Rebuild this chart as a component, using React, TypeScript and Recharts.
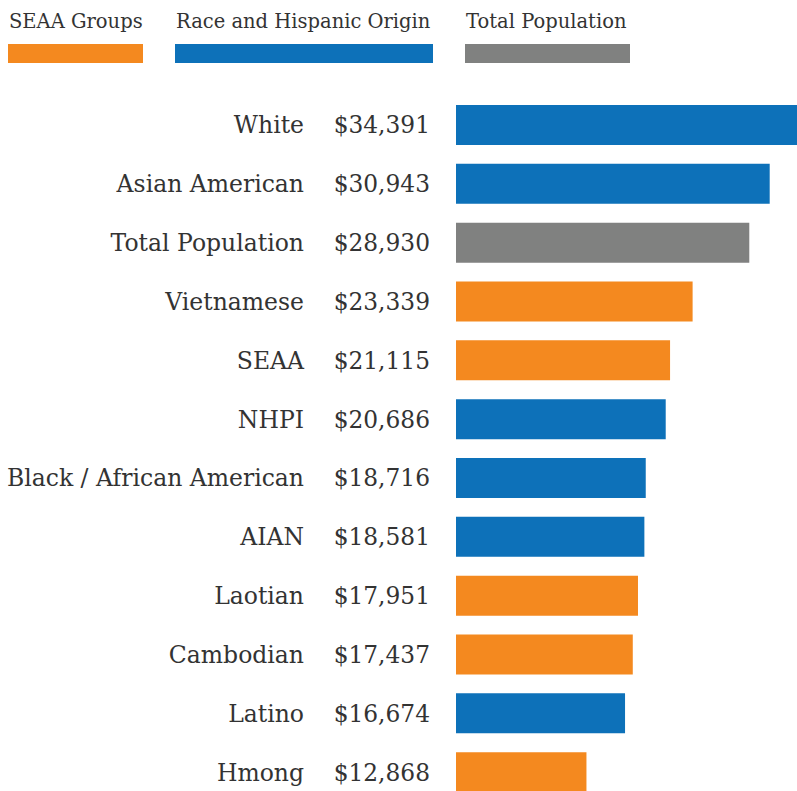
import { BarChart, Bar, XAxis, YAxis, Cell } from 'recharts';

// categories, top to bottom
const CATEGORIES = [
  'White',
  'Asian American',
  'Total Population',
  'Vietnamese',
  'SEAA',
  'NHPI',
  'Black / African American',
  'AIAN',
  'Laotian',
  'Cambodian',
  'Latino',
  'Hmong',
];

// per capita income ($)
const INCOME = [34391, 30943, 28930, 23339, 21115, 20686, 18716, 18581, 17951, 17437, 16674, 12868];

// which legend group each row belongs to
const GROUP = ['race', 'race', 'total', 'seaa', 'seaa', 'race', 'race', 'race', 'seaa', 'seaa', 'race', 'seaa'];

const LEGEND_KEYS = ['seaa', 'race', 'total'];
const LEGEND_LABELS = ['SEAA Groups', 'Race and Hispanic Origin', 'Total Population'];

const COLORS: Record<string, string> = {
  seaa: '#F4891F',
  race: '#0D71B9',
  total: '#808180',
};

// legend swatch placement (left, width)
const LEGEND_POS = [
  { left: 8, width: 135 },
  { left: 175, width: 258 },
  { left: 465, width: 165 },
];

const FONT = '"DejaVu Serif", serif';
const TEXT_COLOR = '#333333';

const data = CATEGORIES.map((name, i) => ({ name, income: INCOME[i], group: GROUP[i] }));

function formatMoney(v: number) {
  return '$' + v.toLocaleString('en-US');
}

function RowTick(props: any) {
  const { y, payload } = props;
  const row = data[payload.index];
  return (
    <g>
      <text x={304} y={y} dy={8} textAnchor="end" fontFamily={FONT} fontSize={23.5} fill={TEXT_COLOR}>
        {row.name}
      </text>
      <text x={430} y={y} dy={8} textAnchor="end" fontFamily={FONT} fontSize={23.3} fill={TEXT_COLOR}>
        {formatMoney(row.income)}
      </text>
    </g>
  );
}

export default function App() {
  return (
    <div
      style={{
        position: 'absolute',
        left: 0,
        top: 0,
        width: 797,
        height: 791,
        overflow: 'hidden',
        background: '#fff',
      }}
    >
      {/* 图例 */}
      {LEGEND_KEYS.map((key, i) => (
        <div
          key={key}
          style={{ position: 'absolute', left: LEGEND_POS[i].left, top: 0, width: LEGEND_POS[i].width }}
        >
          <div
            style={{
              fontFamily: FONT,
              fontSize: 19.5,
              color: TEXT_COLOR,
              lineHeight: '22px',
              marginTop: 11,
              paddingLeft: 1,
              whiteSpace: 'nowrap',
            }}
          >
            {LEGEND_LABELS[i]}
          </div>
          <div style={{ marginTop: 11, height: 19, background: COLORS[key] }} />
        </div>
      ))}

      {/* 图表 */}
      <div style={{ position: 'absolute', left: 0, top: 0 }}>
        <BarChart
          width={860}
          height={802}
          data={data}
          layout="vertical"
          margin={{ top: 96, right: 0, bottom: 0, left: 0 }}
        >
          <XAxis type="number" domain={[0, 39850]} hide />
          <YAxis
            type="category"
            dataKey="name"
            width={456}
            axisLine={false}
            tickLine={false}
            interval={0}
            tick={<RowTick />}
          />
          <Bar dataKey="income" barSize={40} isAnimationActive={false}>
            {data.map((d) => (
              <Cell key={d.name} fill={COLORS[d.group]} />
            ))}
          </Bar>
        </BarChart>
      </div>
    </div>
  );
}
